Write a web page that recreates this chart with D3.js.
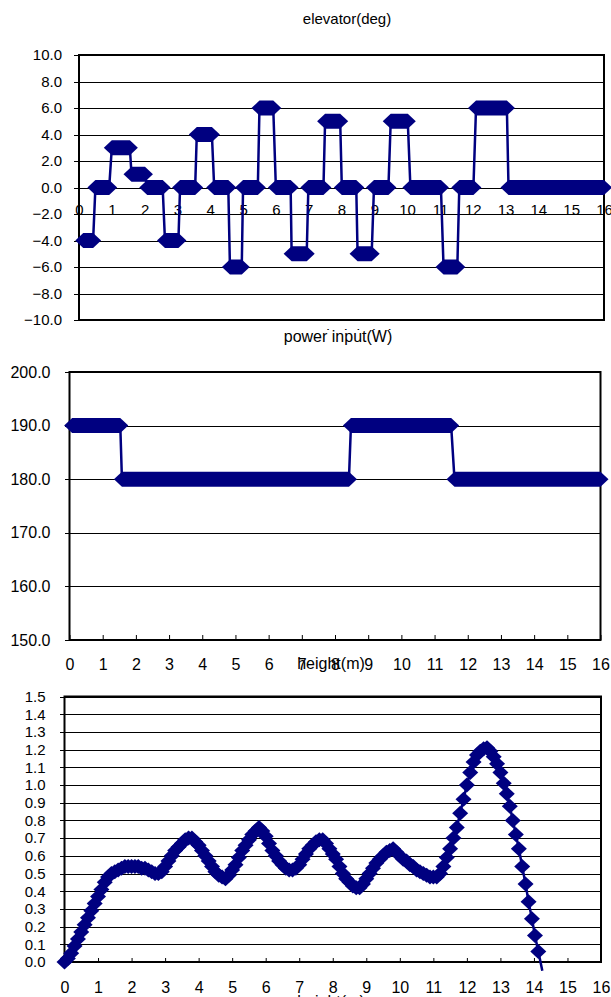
<!DOCTYPE html>
<html lang="en">
<head>
<meta charset="utf-8">
<script src="https://d3js.org/d3.v7.min.js"></script>
<style>
body { margin: 0; background: #fff; }
svg { display: block; }
text { font-family: "Liberation Sans", Arial, sans-serif; fill: #000; }
</style>
</head>
<body>

<svg width="611" height="997"></svg>

<script>
// elevator: each run of samples at one angle -> first height, last height, angle
var elevFrom = [0.13, 0.50, 1.00, 1.60, 2.08, 2.62, 3.08, 3.59, 4.12, 4.60, 5.00, 5.50, 6.00,
                6.48, 6.99, 7.50, 8.01, 8.49, 8.99, 9.50, 10.10, 11.11, 11.59, 12.10, 13.09];
var elevTo   = [0.43, 0.92, 1.55, 2.01, 2.55, 3.03, 3.54, 4.05, 4.55, 4.96, 5.45, 5.92, 6.45,
                6.94, 7.45, 7.96, 8.45, 8.92, 9.43, 10.02, 11.03, 11.53, 12.02, 13.04, 16.00];
var elevDeg  = [-4, 0, 3, 1, 0, -4, 0, 4, 0, -6, 0, 6, 0, -5, 0, 5, 0, -5, 0, 5, 0, -6, 0, 6, 0];

// power input runs
var powerFrom = [0.08, 1.58, 8.48, 11.60];
var powerTo   = [1.53, 8.42, 11.50, 16.00];
var powerW    = [190, 180, 190, 180];

// third chart samples
var heightM = [0.0, 0.1, 0.2, 0.3, 0.4, 0.5, 0.6, 0.7, 0.8, 0.9,
               1.0, 1.1, 1.2, 1.3, 1.4, 1.5, 1.6, 1.7, 1.8, 1.9,
               2.0, 2.1, 2.2, 2.3, 2.4, 2.5, 2.6, 2.7, 2.8, 2.9,
               3.0, 3.1, 3.2, 3.3, 3.4, 3.5, 3.6, 3.7, 3.8, 3.9,
               4.0, 4.1, 4.2, 4.3, 4.4, 4.5, 4.6, 4.7, 4.8, 4.9,
               5.0, 5.1, 5.2, 5.3, 5.4, 5.5, 5.6, 5.7, 5.8, 5.9,
               6.0, 6.1, 6.2, 6.3, 6.4, 6.5, 6.6, 6.7, 6.8, 6.9,
               7.0, 7.1, 7.2, 7.3, 7.4, 7.5, 7.6, 7.7, 7.8, 7.9,
               8.0, 8.1, 8.2, 8.3, 8.4, 8.5, 8.6, 8.7, 8.8, 8.9,
               9.0, 9.1, 9.2, 9.3, 9.4, 9.5, 9.6, 9.7, 9.8, 9.9,
               10.0, 10.1, 10.2, 10.3, 10.4, 10.5, 10.6, 10.7, 10.8, 10.9,
               11.0, 11.1, 11.2, 11.3, 11.4, 11.5, 11.6, 11.7, 11.8, 11.9,
               12.0, 12.1, 12.2, 12.3, 12.4, 12.5, 12.6, 12.7, 12.8, 12.9,
               13.0, 13.1, 13.19, 13.28, 13.37, 13.46, 13.55, 13.65, 13.75, 13.84,
               13.94, 14.03, 14.13, 14.25];
var speed   = [0.00, 0.02, 0.05, 0.09, 0.13, 0.17, 0.21, 0.25, 0.29, 0.33,
               0.37, 0.41, 0.45, 0.48, 0.50, 0.51, 0.52, 0.53, 0.54, 0.54,
               0.54, 0.54, 0.54, 0.53, 0.53, 0.52, 0.51, 0.50, 0.50, 0.51,
               0.54, 0.57, 0.60, 0.63, 0.65, 0.67, 0.69, 0.70, 0.70, 0.68,
               0.66, 0.63, 0.60, 0.57, 0.54, 0.51, 0.49, 0.48, 0.47, 0.49,
               0.52, 0.55, 0.59, 0.63, 0.66, 0.69, 0.72, 0.74, 0.76, 0.74,
               0.71, 0.67, 0.63, 0.60, 0.57, 0.55, 0.53, 0.52, 0.52, 0.53,
               0.55, 0.58, 0.61, 0.64, 0.66, 0.68, 0.69, 0.69, 0.67, 0.64,
               0.61, 0.58, 0.54, 0.50, 0.47, 0.45, 0.43, 0.42, 0.42, 0.44,
               0.47, 0.50, 0.53, 0.56, 0.58, 0.60, 0.62, 0.63, 0.64, 0.62,
               0.60, 0.58, 0.57, 0.55, 0.54, 0.52, 0.51, 0.50, 0.49, 0.48,
               0.48, 0.48, 0.50, 0.54, 0.59, 0.64, 0.70, 0.76, 0.84, 0.92,
               1.00, 1.07, 1.13, 1.17, 1.19, 1.205, 1.21, 1.19, 1.16, 1.12,
               1.07, 1.01, 0.95, 0.88, 0.80, 0.72, 0.64, 0.54, 0.44, 0.34,
               0.245, 0.15, 0.06, -0.05];

var xTicks = [0, 1, 2, 3, 4, 5, 6, 7, 8, 9, 10, 11, 12, 13, 14, 15, 16];
var elevTicks = [-10, -8, -6, -4, -2, 0, 2, 4, 6, 8, 10];
var powerTicks = [150, 160, 170, 180, 190, 200];
var speedTicks = [0, 0.1, 0.2, 0.3, 0.4, 0.5, 0.6, 0.7, 0.8, 0.9, 1.0, 1.1, 1.2, 1.3, 1.4, 1.5];

var navy = "#000080";
var hw = 8, hh = 7.5; // half size of the diamond marker
var svg = d3.select("svg");

// horizontal grid + labels on the left, ticks poke out 5px
function leftGrid(g, x, y, ticks, pad, fs) {
  var w = x.range()[1] - x.range()[0];
  g.append("g")
      .attr("transform", "translate(" + (x.range()[0] - 5) + ",0)")
      .call(d3.axisLeft(y).tickValues(ticks).tickSize(-(w + 5)).tickPadding(pad).tickFormat(d3.format(".1f")))
      .call(function(a) {
        a.select(".domain").remove();
        a.selectAll("line").attr("stroke", "#000").attr("shape-rendering", "crispEdges");
        a.selectAll("text").attr("font-size", fs).attr("font-family", null);
      });
}

function box(g, x, y) {
  g.append("rect")
      .attr("x", x.range()[0]).attr("y", y.range()[1])
      .attr("width", x.range()[1] - x.range()[0])
      .attr("height", y.range()[0] - y.range()[1])
      .attr("fill", "none").attr("stroke", "#000").attr("stroke-width", 2);
}

// runs of dense markers look like hexagons, joined by a thin line
function runs(g, x, y, from, to, val) {
  var pts = [];
  from.forEach(function(d, i) { pts.push([d, val[i]], [to[i], val[i]]); });
  g.append("path")
      .attr("d", d3.line().x(function(d) { return x(d[0]); }).y(function(d) { return y(d[1]); })(pts))
      .attr("fill", "none").attr("stroke", navy).attr("stroke-width", 2.5);
  g.selectAll(".run")
    .data(from.map(function(d, i) { return {a: d, b: to[i], v: val[i]}; }))
    .enter().append("path")
      .attr("class", "run")
      .attr("fill", navy)
      .attr("d", function(d) {
        var x1 = x(d.a), x2 = x(d.b), yy = y(d.v);
        return "M" + (x1 - hw) + "," + yy + "L" + x1 + "," + (yy - hh) + "L" + x2 + "," + (yy - hh) +
               "L" + (x2 + hw) + "," + yy + "L" + x2 + "," + (yy + hh) + "L" + x1 + "," + (yy + hh) + "Z";
      });
}

function title(g, txt, cx, by, fs) {
  g.append("text").attr("x", cx).attr("y", by).attr("text-anchor", "middle")
      .attr("font-size", fs).text(txt);
}

// ---------- elevator ----------
var g1 = svg.append("g");
var x1 = d3.scaleLinear().domain([0, 16]).range([79, 604]);
var y1 = d3.scaleLinear().domain([-10, 10]).range([320, 55]);

title(g1, "elevator(deg)", 347, 24, 15);
title(g1, "height(m)", 360, 341, 16);
leftGrid(g1, x1, y1, elevTicks, 12, 15);
box(g1, x1, y1);
g1.append("g")
    .attr("transform", "translate(0," + y1(0) + ")")
    .call(d3.axisBottom(x1).tickValues(xTicks).tickSize(0).tickPadding(17))
    .call(function(a) {
      a.select(".domain").remove();
      a.selectAll("text").attr("font-size", 15).attr("font-family", null);
    });
runs(g1, x1, y1, elevFrom, elevTo, elevDeg);

// ---------- power input ----------
var g2 = svg.append("g");
g2.append("rect").attr("x", 0).attr("y", 330).attr("width", 611).attr("height", 350).attr("fill", "#fff");
var x2 = d3.scaleLinear().domain([0, 16]).range([69.5, 600.5]);
var y2 = d3.scaleLinear().domain([150, 200]).range([640, 372]);

title(g2, "power input(W)", 338, 342, 16);
leftGrid(g2, x2, y2, powerTicks, 14, 16);
g2.append("g")
    .attr("transform", "translate(0," + y2.range()[0] + ")")
    .call(d3.axisBottom(x2).tickValues(xTicks).tickSizeInner(-5).tickSizeOuter(0).tickPadding(19))
    .call(function(a) {
      a.select(".domain").remove();
      a.selectAll("line").attr("stroke", "#000");
      a.selectAll("text").attr("font-size", 16).attr("font-family", null);
    });
box(g2, x2, y2);
title(g2, "height(m)", 331, 669, 16);
runs(g2, x2, y2, powerFrom, powerTo, powerW);

// ---------- third chart ----------
var g3 = svg.append("g");
var x3 = d3.scaleLinear().domain([0, 16]).range([64.5, 601]);
var y3 = d3.scaleLinear().domain([0, 1.5]).range([962, 696.5]);

leftGrid(g3, x3, y3, speedTicks, 14, 15);
g3.append("g")
    .attr("transform", "translate(0," + y3.range()[0] + ")")
    .call(d3.axisBottom(x3).tickValues(xTicks).tickSizeInner(-4).tickSizeOuter(0).tickPadding(19.5))
    .call(function(a) {
      a.select(".domain").remove();
      a.selectAll("line").attr("stroke", "#000");
      a.selectAll("text").attr("font-size", 16).attr("font-family", null);
    });
box(g3, x3, y3);
title(g3, "height(m)", 331, 1007, 16);

var pts3 = heightM.map(function(d, i) { return {h: d, v: speed[i]}; });
g3.append("path")
    .attr("d", d3.line().x(function(d) { return x3(d.h); }).y(function(d) { return y3(d.v); })(pts3))
    .attr("fill", "none").attr("stroke", navy).attr("stroke-width", 2.5);
g3.selectAll(".pt")
  .data(pts3.filter(function(d) { return d.v >= 0; }))
  .enter().append("path")
    .attr("class", "pt")
    .attr("fill", navy)
    .attr("d", function(d) {
      var cx = x3(d.h), cy = y3(d.v);
      return "M" + (cx - hw) + "," + cy + "L" + cx + "," + (cy - hh) + "L" + (cx + hw) + "," + cy +
             "L" + cx + "," + (cy + hh) + "Z";
    });
</script>
</body>
</html>
